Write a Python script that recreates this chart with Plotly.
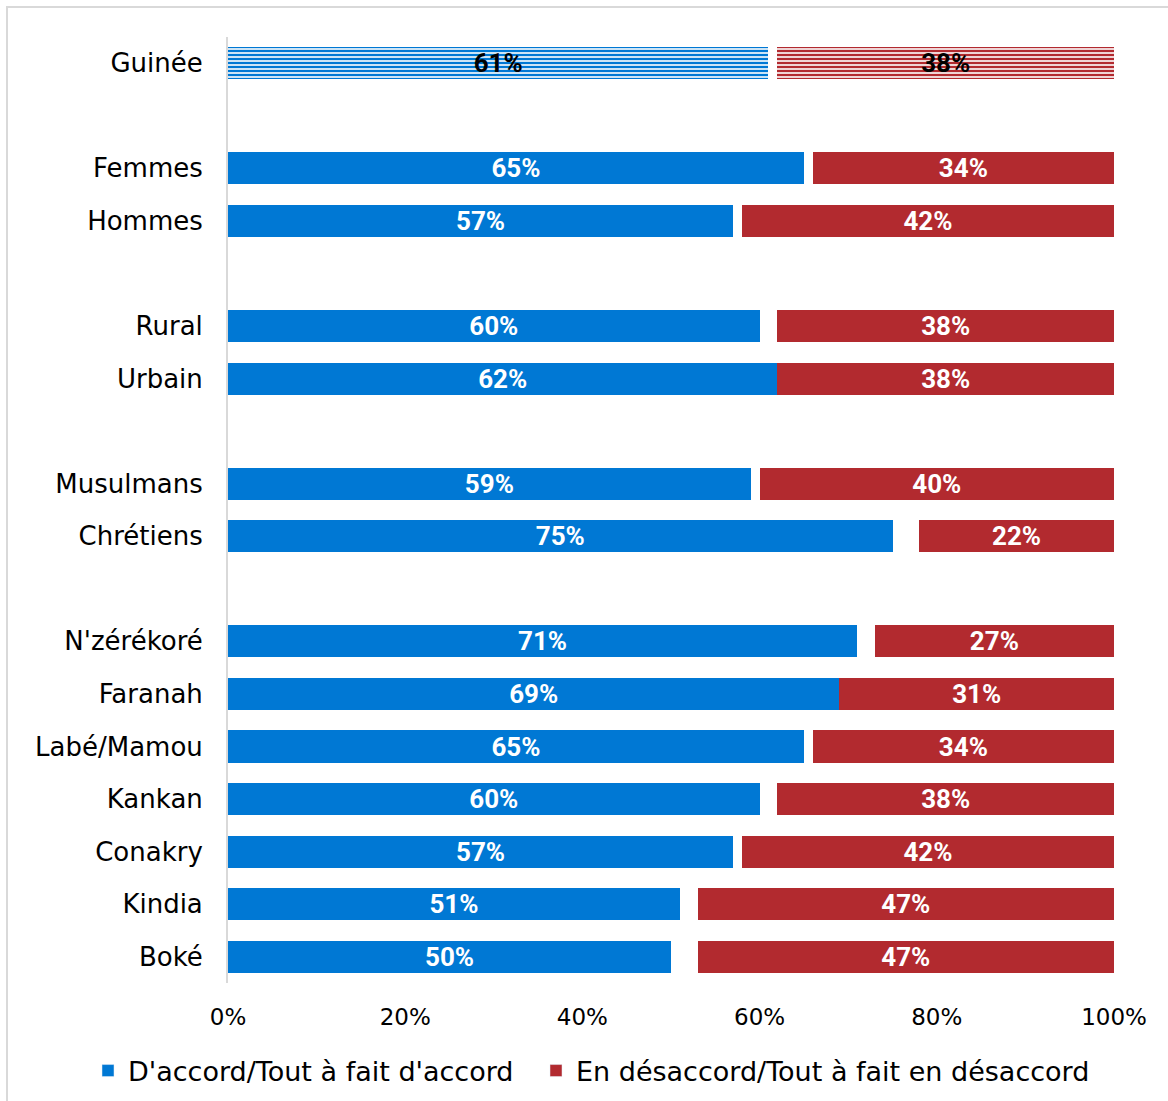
import plotly.graph_objects as go

# Survey breakdown: share agreeing vs disagreeing, by group
categories = ["Guinée", "Femmes", "Hommes", "Rural", "Urbain", "Musulmans", "Chrétiens",
              "N'zérékoré", "Faranah", "Labé/Mamou", "Kankan", "Conakry", "Kindia", "Boké"]
agree = [61, 65, 57, 60, 62, 59, 75, 71, 69, 65, 60, 57, 51, 50]
disagree = [38, 34, 42, 38, 38, 40, 22, 27, 31, 34, 38, 42, 47, 47]
series_names = ["D'accord/Tout à fait d'accord", "En désaccord/Tout à fait en désaccord"]

# Row slots (blank slots separate the groups)
slots = [0, 2, 3, 5, 6, 8, 9, 11, 12, 13, 14, 15, 16, 17]

x_ticks = [0, 20, 40, 60, 80, 100]
x_tick_labels = ["0%", "20%", "40%", "60%", "80%", "100%"]

BLUE = "#0078D4"
RED = "#B22A2F"
GRID = "#D9D9D9"
FONT = "DejaVu Sans"
LABEL_FONT = "Roboto"

remainder = [100 - a - d for a, d in zip(agree, disagree)]
is_total = [c == "Guinée" for c in categories]
label_colors = ["#000000" if t else "#FFFFFF" for t in is_total]
shapes_pattern = ["-" if t else "" for t in is_total]


def stripes(color):
    return dict(shape=shapes_pattern, fgcolor=color, bgcolor="white", fgopacity=1,
                size=4, solidity=0.6, fillmode="replace")


fig = go.Figure()

fig.add_trace(go.Bar(
    y=slots, x=agree, orientation="h", showlegend=False,
    marker=dict(color=BLUE, line=dict(width=0), pattern=stripes(BLUE)),
    text=[f"{v}%" for v in agree], textposition="inside", insidetextanchor="middle",
    textfont=dict(family=LABEL_FONT, size=26, color=label_colors, weight="bold"),
    constraintext="none", hoverinfo="skip",
))
fig.add_trace(go.Bar(
    y=slots, x=remainder, orientation="h", showlegend=False,
    marker=dict(color="rgba(0,0,0,0)", line=dict(width=0)), hoverinfo="skip",
))
fig.add_trace(go.Bar(
    y=slots, x=disagree, orientation="h", showlegend=False,
    marker=dict(color=RED, line=dict(width=0), pattern=stripes(RED)),
    text=[f"{v}%" for v in disagree], textposition="inside", insidetextanchor="middle",
    textfont=dict(family=LABEL_FONT, size=26, color=label_colors, weight="bold"),
    constraintext="none", hoverinfo="skip",
))

# Solid-colour legend entries, one legend box each
for name, color, lg in zip(series_names, [BLUE, RED], ["legend", "legend2"]):
    fig.add_trace(go.Bar(y=[None], x=[None], orientation="h", name=name, legend=lg,
                         marker=dict(color=color), showlegend=True, hoverinfo="skip"))

W, H = 1168, 1101
L, R, T, B = 228, 54, 37, 118
pw, ph = W - L - R, H - T - B


def px_x(px):
    return (px - L) / pw


def px_y(py):
    return (H - B - py) / ph


legend_style = dict(orientation="h", xref="paper", yref="paper", xanchor="left",
                    y=px_y(1071), yanchor="middle", font=dict(size=27), itemwidth=30)

fig.update_layout(
    width=W, height=H,
    barmode="stack", bargap=0.39,
    margin=dict(l=L, r=R, t=T, b=B, autoexpand=False),
    paper_bgcolor="white", plot_bgcolor="white",
    font=dict(family=FONT, color="#000000", size=24),
    xaxis=dict(range=[0, 100], tickvals=x_ticks, ticktext=x_tick_labels,
               showgrid=False, zeroline=False, showline=False, automargin=False,
               ticks="", ticklabelstandoff=18, tickfont=dict(size=23)),
    yaxis=dict(range=[17.5, -0.5], tickvals=slots, ticktext=categories,
               showgrid=False, zeroline=False, showline=True, linecolor=GRID, linewidth=2,
               automargin=False, ticks="", ticklabelstandoff=18, tickfont=dict(size=26)),
    legend=dict(legend_style, x=px_x(88)),
    legend2=dict(legend_style, x=px_x(536)),
    shapes=[dict(type="path", xref="paper", yref="paper",
                 path=f"M {px_x(7)},{px_y(1200)} L {px_x(7)},{px_y(7)} L {px_x(1300)},{px_y(7)}",
                 line=dict(color=GRID, width=2))],
)

fig.write_html("out.html")
